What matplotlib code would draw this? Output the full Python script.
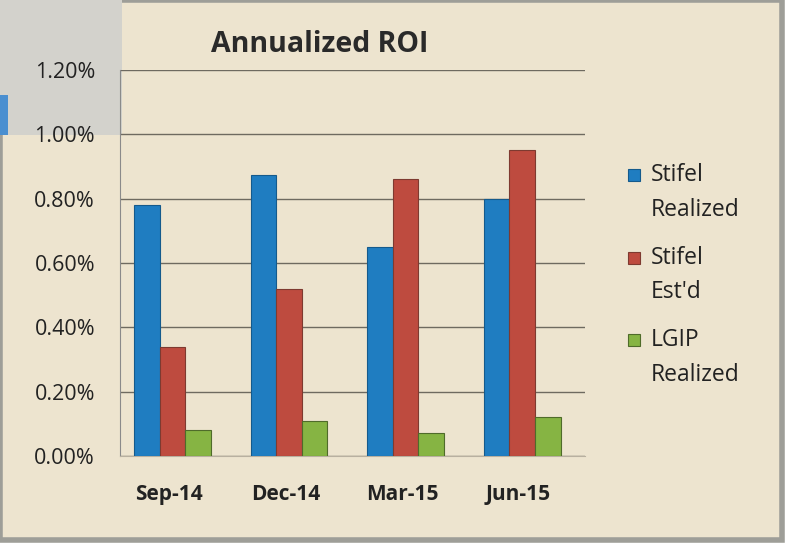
import matplotlib
matplotlib.use("Agg")
import matplotlib.pyplot as plt
from matplotlib.patches import Rectangle
import numpy as np

categories = ["Sep-14", "Dec-14", "Mar-15", "Jun-15"]
series_names = ["Stifel\nRealized", "Stifel\nEst'd", "LGIP\nRealized"]
stifel_realized = [0.78, 0.875, 0.65, 0.80]
stifel_estd = [0.34, 0.52, 0.86, 0.95]
lgip_realized = [0.08, 0.11, 0.07, 0.12]
y_ticks = [0.0, 0.2, 0.4, 0.6, 0.8, 1.0, 1.2]
y_tick_labels = ["0.00%", "0.20%", "0.40%", "0.60%", "0.80%", "1.00%", "1.20%"]

colors = ["#1F7DC1", "#BE4B3F", "#86B443"]
edge_dark = ["#145A8C", "#7E3A30", "#4F6B2A"]
bg = "#EDE4CF"

plt.rcParams['font.family'] = ['Open Sans', 'DejaVu Sans']

W, H = 791, 551
fig = plt.figure(figsize=(W / 100, H / 100), dpi=100)
fig.patch.set_facecolor("white")

def px(x0, y0, x1, y1):
    return (x0 / W, 1 - y1 / H, (x1 - x0) / W, (y1 - y0) / H)

# chart background and frame
x, y, w, h = px(0, 0, 782, 540)
fig.patches.append(Rectangle((x, y), w, h, transform=fig.transFigure,
                             facecolor=bg, edgecolor="#9E9E98", linewidth=4, zorder=-3))
# gray scanned panel at top-left
x, y, w, h = px(0, 0, 122, 135)
fig.patches.append(Rectangle((x, y), w, h, transform=fig.transFigure,
                             facecolor="#D3D2CC", edgecolor="none", zorder=-2))
x, y, w, h = px(0, 95, 8, 135)
fig.patches.append(Rectangle((x, y), w, h, transform=fig.transFigure,
                             facecolor="#4A8FD0", edgecolor="none", zorder=-1))

ax = fig.add_axes([120 / W, 1 - 456 / H, (585 - 120) / W, (456 - 70) / H])
ax.set_facecolor("none")
ax.set_zorder(2)

xs = np.arange(len(categories))
bw = 0.22
offsets = [-bw, 0, bw]
for vals, off, c, ec in zip([stifel_realized, stifel_estd, lgip_realized], offsets, colors, edge_dark):
    ax.bar(xs + off + 0.03, vals, width=bw, color=c, edgecolor=ec, linewidth=0.8, zorder=3)

ax.set_ylim(0, 1.2)
ax.set_xlim(-0.42, 3.57)
ax.set_yticks(y_ticks)
ax.set_yticklabels(y_tick_labels, fontsize=15.5, color="#222222")
ax.set_xticks(xs)
ax.set_xticklabels(categories, fontsize=15, fontweight="bold", color="#222222")
ax.tick_params(axis="y", length=0, pad=18)
ax.tick_params(axis="x", length=0, pad=20)
ax.grid(axis="y", color="#6E6A60", linewidth=1.0, zorder=1)
ax.set_axisbelow(True)
for s in ["top", "right"]:
    ax.spines[s].set_visible(False)
ax.spines["left"].set_color("#8A8A8A")
ax.spines["bottom"].set_color("#B8B0A0")

fig.text(320 / W, 1 - 45 / H, "Annualized ROI", fontsize=20.5, fontweight="bold",
         color="#2A2A2A", ha="center", va="center")

# legend
rows = [(175, 210), (258, 292), (340, 375)]
for (y1, y2), name, c, ec in zip(rows, series_names, colors, edge_dark):
    first, second = name.split("\n")
    x, y, w, h = px(628, y1 - 6, 640, y1 + 6)
    fig.patches.append(Rectangle((x, y), w, h, transform=fig.transFigure,
                                 facecolor=c, edgecolor=ec, linewidth=0.8, zorder=5))
    fig.text(651 / W, 1 - y1 / H, first, fontsize=16.5, color="#222222", va="center", ha="left")
    fig.text(651 / W, 1 - y2 / H, second, fontsize=16.5, color="#222222", va="center", ha="left")

fig.savefig("out.png", dpi=100, facecolor=fig.get_facecolor())
